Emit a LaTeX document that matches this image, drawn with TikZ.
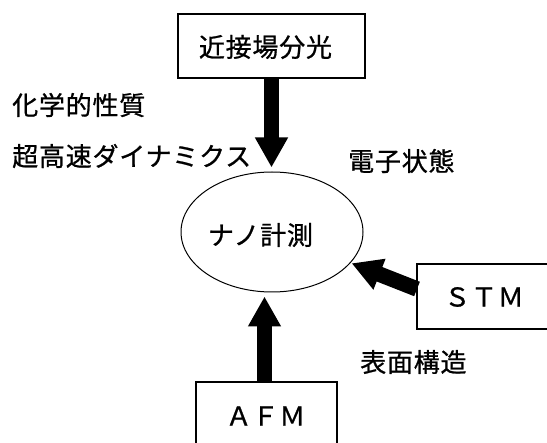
\documentclass[tikz,border=0pt]{standalone}
\usepackage{fontspec}
\setmainfont[LetterSpace=3,FakeBold=0.8]{Noto Sans CJK JP}
\usetikzlibrary{arrows.meta,shapes.geometric}
\begin{document}
\begin{tikzpicture}[x=1pt,y=-1pt,
  txt/.style={inner sep=0pt, font=\fontsize{26}{30}\selectfont},
  box/.style={draw, line width=1.2pt, inner sep=0pt},
  bigarrow/.style={line width=15.5pt, -{Triangle[length=30pt,width=31pt]}}]
\useasboundingbox (0,0) rectangle (547,443);
\fill[white] (0,0) rectangle (547,443);
% boxes
\node[box, minimum width=187pt, minimum height=64pt] (top) at (271.5,46) {};
\node[box, minimum width=150pt, minimum height=65pt] (stm) at (492,296.5) {};
\node[box, minimum width=141pt, minimum height=70pt] (afm) at (266.5,417) {};
\node[draw, line width=1pt, ellipse, minimum width=182pt, minimum height=120pt, inner sep=0pt] (ell) at (272,232) {};
% texts
\node[txt] (ttop) at (265.5,47) {近接場分光};
\node[txt] (tstm) at (484,297) {ＳＴＭ};
\node[txt] (tafm) at (265.5,416) {ＡＦＭ};
\node[txt] (tell) at (260.5,235) {ナノ計測};
\node[txt, anchor=west] (t1) at (12,105) {化学的性質};
\node[txt, anchor=west] (t2) at (12,156) {超高速ダイナミクス};
\node[txt, anchor=west] (t3) at (348,161) {電子状態};
\node[txt, anchor=west] (t4) at (360,362) {表面構造};
% arrows
\coordinate (stmout) at (417,289);
\draw[bigarrow, shorten >=4pt] (top.south) -- (top.south |- ell.north);
\draw[bigarrow, shorten >=4pt] ([xshift=-2pt]afm.north) -- ([xshift=-2pt]afm.north |- ell.south);
\draw[bigarrow, shorten >=1pt] (stmout) -- (ell);
\end{tikzpicture}
\end{document}
